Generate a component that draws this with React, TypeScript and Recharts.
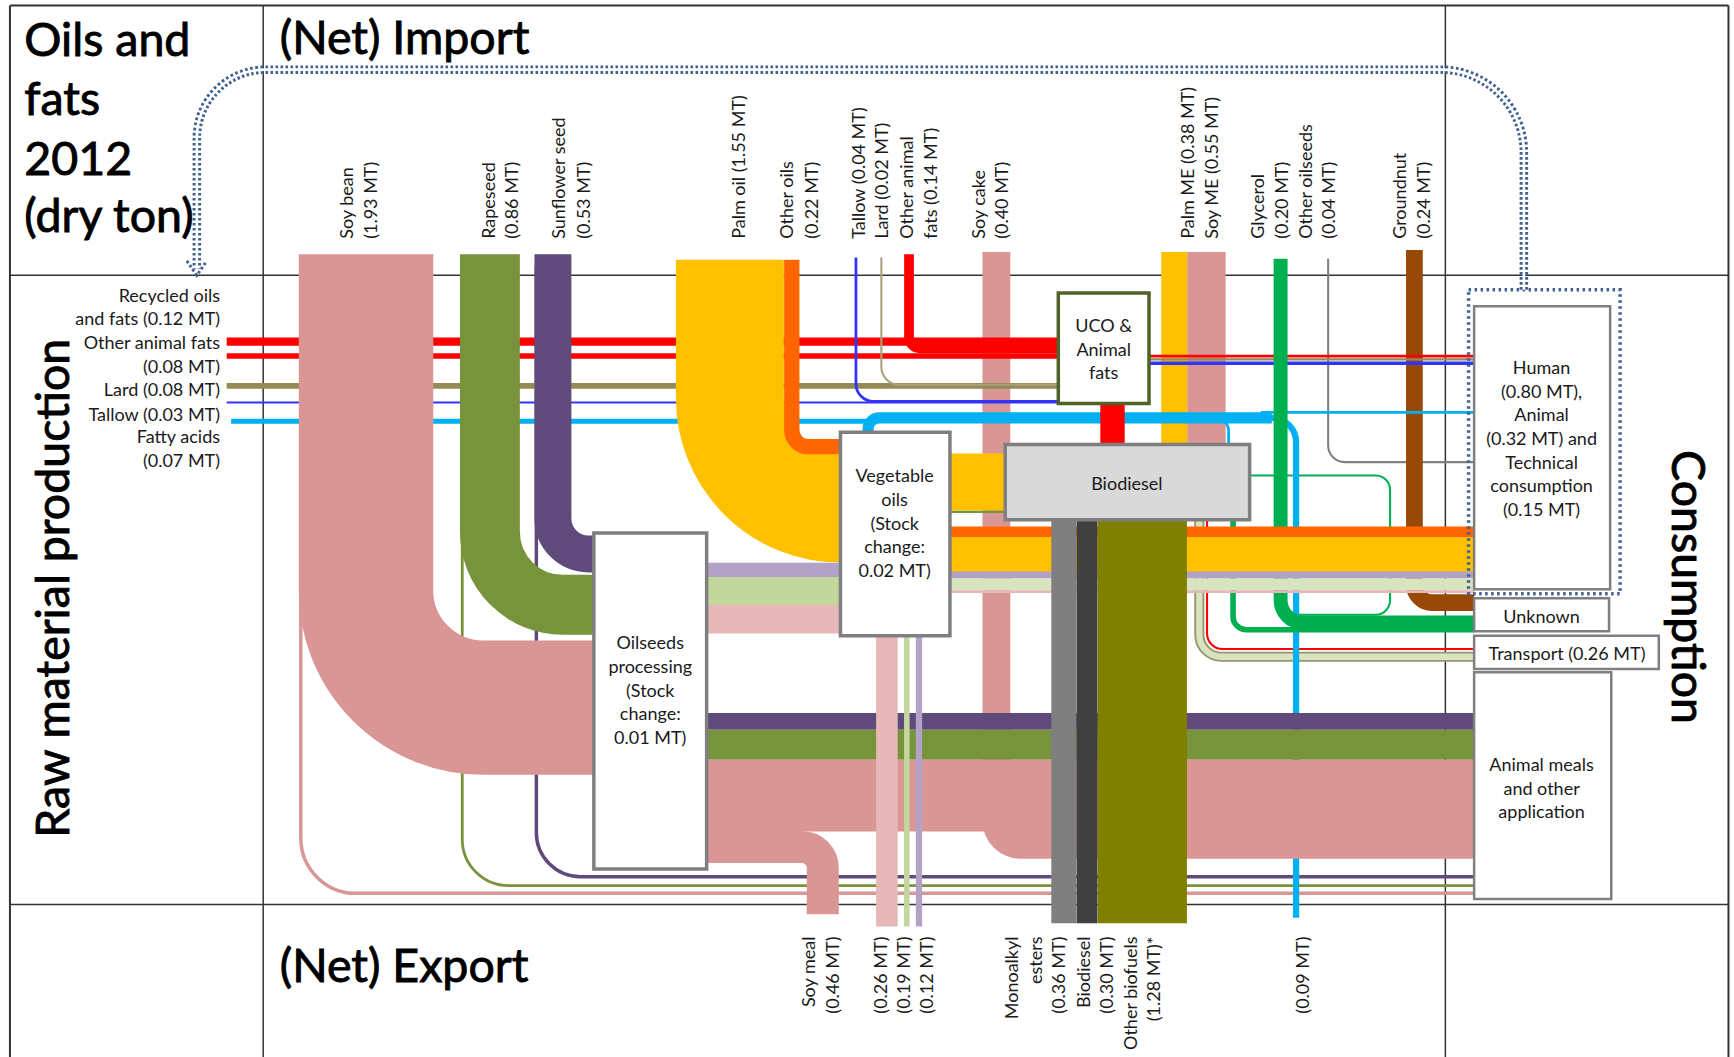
import React from "react";
import {
  ComposedChart,
  XAxis,
  YAxis,
  Line,
  ReferenceArea,
  ReferenceLine,
  ReferenceDot,
} from "recharts";

// ---------- canvas / diagram space ----------
const CHART_W = 1734;
const CHART_H = 1057;
const DOMAIN_W = 1568;
const DOMAIN_H = 956;
const SCALE = CHART_H / DOMAIN_H;
const PX_PER_MT = 63; // diagram units per million tonnes (band width)
const FONT = 'Lato, "Open Sans", "DejaVu Sans", sans-serif';

// ---------- colours ----------
const PINK = "#D99694";
const GREEN = "#77933C";
const PURPLE = "#604A7B";
const YELLOW = "#FFC000";
const ORANGE = "#FF6600";
const RED = "#FF0000";
const KHAKI = "#948A54";
const BLUE = "#3333FF";
const CYAN = "#00B0F0";
const BGREEN = "#00B050";
const BROWN = "#984807";
const GRAY = "#7F7F7F";
const DARK = "#404040";
const OLIVE = "#7F7F00";
const LAVENDER = "#B3A2C7";
const LGREEN = "#C3D69B";
const PALEGREEN = "#D7E4BD";
const LPINK = "#E6B9B8";
const DOTBLUE = "#41618F";

// ---------- values (MT) ----------
const importCategories = [
  "Soy bean", "Rapeseed", "Sunflower seed", "Palm oil", "Other oils", "Tallow", "Lard",
  "Other animal fats", "Soy cake", "Palm ME", "Soy ME", "Glycerol", "Other oilseeds", "Groundnut",
];
const importValues = [1.93, 0.86, 0.53, 1.55, 0.22, 0.04, 0.02, 0.14, 0.4, 0.38, 0.55, 0.2, 0.04, 0.24];

const domesticCategories = ["Recycled oils and fats", "Other animal fats", "Lard", "Tallow", "Fatty acids"];
const domesticValues = [0.12, 0.08, 0.08, 0.03, 0.07];

const exportCategories = ["Soy meal", "Monoalkyl esters", "Biodiesel", "Other biofuels", "Fatty acids"];
const exportValues = [0.46, 0.36, 0.3, 1.28, 0.09];

const imp = (n: string) => importValues[importCategories.indexOf(n)];
const dom = (n: string) => domesticValues[domesticCategories.indexOf(n)];
const exp = (n: string) => exportValues[exportCategories.indexOf(n)];

const flowList = [
  { id: "soyRest", value: 0.05, color: PINK },
  { id: "rapeRest", value: 0.04, color: GREEN },
  { id: "sunRest", value: 0.05, color: PURPLE },
  { id: "transportOuter", value: 0.145, color: "#9A9470" },
  { id: "transportInner", value: 0.09, color: PALEGREEN },
  { id: "transportRed", value: 0.03, color: RED },
  { id: "glycerolLoop", value: 0.03, color: BGREEN },
  { id: "fattyExport", value: exp("Fatty acids"), color: CYAN },
  { id: "soyCake", value: imp("Soy cake"), color: PINK },
  { id: "recycledDom", value: dom("Recycled oils and fats"), color: RED },
  { id: "animalFatDom", value: dom("Other animal fats"), color: RED },
  { id: "lardDom", value: dom("Lard"), color: KHAKI },
  { id: "tallowDom", value: dom("Tallow"), color: BLUE },
  { id: "fattyDom", value: dom("Fatty acids"), color: CYAN },
  { id: "soyBean", value: imp("Soy bean"), color: PINK },
  { id: "rapeseed", value: imp("Rapeseed"), color: GREEN },
  { id: "sunflower", value: imp("Sunflower seed"), color: PURPLE },
  { id: "palmOil", value: imp("Palm oil"), color: YELLOW },
  { id: "otherOils", value: imp("Other oils"), color: ORANGE },
  { id: "tallowImp", value: imp("Tallow"), color: BLUE },
  { id: "lardImp", value: 0.03, color: "#A9A27A" },
  { id: "animalFatImp", value: imp("Other animal fats"), color: RED },
  { id: "palmME", value: imp("Palm ME"), color: YELLOW },
  { id: "soyME", value: imp("Soy ME"), color: PINK },
  { id: "otherOilseeds", value: 0.03, color: GRAY },
  { id: "groundnut", value: imp("Groundnut"), color: BROWN },
  { id: "ucoRed", value: 0.04, color: RED },
  { id: "ucoKhaki", value: 0.03, color: KHAKI },
  { id: "ucoBlue", value: 0.05, color: BLUE },
  { id: "bioGlycerol", value: 0.08, color: BGREEN },
  { id: "fattyBand", value: 0.16, color: CYAN },
  { id: "fattyToBio", value: 0.04, color: CYAN },
  { id: "fattyToHuman", value: 0.04, color: CYAN },
  { id: "glycerol", value: imp("Glycerol"), color: BGREEN },
  { id: "soyMeal", value: exp("Soy meal"), color: PINK },
  { id: "sunMeal", value: 0.24, color: PURPLE },
  { id: "rapeMeal", value: 0.43, color: GREEN },
  { id: "soyMealDom", value: 1.03, color: PINK },
  { id: "vegExpPink", value: 0.31, color: LPINK },
  { id: "vegExpGreen", value: 0.08, color: LGREEN },
  { id: "vegExpLilac", value: 0.09, color: LAVENDER },
  { id: "sunOil", value: 0.21, color: LAVENDER },
  { id: "rapeOil", value: 0.4, color: LGREEN },
  { id: "soyOil", value: 0.41, color: LPINK },
  { id: "vegToBio", value: 0.82, color: YELLOW },
  { id: "rapeToBio", value: 0.03, color: GREEN },
  { id: "otherOilHuman", value: 0.15, color: ORANGE },
  { id: "palmHuman", value: 0.5, color: YELLOW },
  { id: "sunHuman", value: 0.1, color: LAVENDER },
  { id: "rapeHuman", value: 0.17, color: PALEGREEN },
  { id: "soyHuman", value: 0.04, color: LPINK },
  { id: "ucoToBio", value: 0.35, color: RED },
  { id: "monoalkyl", value: exp("Monoalkyl esters"), color: GRAY },
  { id: "biodieselExp", value: exp("Biodiesel"), color: DARK },
  { id: "otherBiofuels", value: exp("Other biofuels"), color: OLIVE },
];

// ---------- layout: routing of each flow (diagram units) ----------
type Pt = [number, number];
const flowRoutes: Record<string, { pts: Pt[]; r?: number }> = {
  soyRest: { pts: [[272, 240], [272, 808], [1333, 808]], r: 50 },
  rapeRest: { pts: [[418, 240], [418, 801], [1333, 801]], r: 42 },
  sunRest: { pts: [[485, 240], [485, 793], [1333, 793]], r: 40 },
  soyCake: { pts: [[901, 228], [901, 764], [1333, 764]], r: 22 },
  recycledDom: { pts: [[205, 309], [957, 309]] },
  animalFatDom: { pts: [[205, 322], [957, 322]] },
  lardDom: { pts: [[205, 349], [957, 349]] },
  tallowDom: { pts: [[205, 364], [957, 364]] },
  fattyDom: { pts: [[209, 381], [790, 381]] },
  soyBean: { pts: [[331, 230], [331, 640], [537, 640]], r: 106 },
  rapeseed: { pts: [[443, 230], [443, 547], [537, 547]], r: 66 },
  sunflower: { pts: [[500, 230], [500, 501], [537, 501]], r: 32 },
  palmOil: { pts: [[660, 235], [660, 460], [760, 460]], r: 100 },
  otherOils: { pts: [[716, 235], [716, 404], [760, 404]], r: 15 },
  tallowImp: { pts: [[774, 233], [774, 363], [957, 363]], r: 16 },
  lardImp: { pts: [[797, 233], [797, 348], [957, 348]], r: 16 },
  animalFatImp: { pts: [[822, 230], [822, 315], [957, 315]], r: 10 },
  palmME: { pts: [[1062, 228], [1062, 402]] },
  soyME: { pts: [[1091, 228], [1091, 402]] },
  otherOilseeds: { pts: [[1201, 234], [1201, 418], [1333, 418]], r: 15 },
  groundnut: { pts: [[1279, 226], [1279, 545], [1333, 545]], r: 16 },
  ucoRed: { pts: [[1039, 322], [1333, 322]] },
  ucoKhaki: { pts: [[1039, 325], [1333, 325]] },
  ucoBlue: { pts: [[1039, 328.5], [1333, 328.5]] },
  transportOuter: { pts: [[1084.5, 470], [1084.5, 594], [1333, 594]], r: 20 },
  transportInner: { pts: [[1084.5, 470], [1084.5, 594], [1333, 594]], r: 20 },
  transportRed: { pts: [[1091.5, 470], [1091.5, 587], [1333, 587]], r: 14 },
  bioGlycerol: { pts: [[1115, 470], [1115, 569.5], [1333, 569.5]], r: 12 },
  glycerolLoop: { pts: [[1130, 430], [1257, 430], [1257, 556], [1165, 556]], r: 13 },
  fattyBand: { pts: [[785, 400], [785, 378], [1150, 378]], r: 10 },
  fattyToBio: { pts: [[1080, 378], [1111, 378], [1111, 402]], r: 12 },
  fattyToHuman: { pts: [[1140, 373], [1333, 373]] },
  fattyExport: { pts: [[1130, 378], [1172, 378], [1172, 830]], r: 22 },
  glycerol: { pts: [[1158, 234], [1158, 563], [1333, 563]], r: 20 },
  soyMeal: { pts: [[639, 766], [744, 766], [744, 827]], r: 19 },
  sunMeal: { pts: [[639, 652.5], [1333, 652.5]] },
  rapeMeal: { pts: [[639, 673.5], [1333, 673.5]] },
  soyMealDom: { pts: [[639, 719.5], [1333, 719.5]] },
  vegExpPink: { pts: [[802, 575], [802, 838]] },
  vegExpGreen: { pts: [[820, 575], [820, 838]] },
  vegExpLilac: { pts: [[831, 575], [831, 838]] },
  sunOil: { pts: [[639, 515.5], [760, 515.5]] },
  rapeOil: { pts: [[639, 534.5], [760, 534.5]] },
  soyOil: { pts: [[639, 560], [760, 560]] },
  vegToBio: { pts: [[859, 436], [909, 436]] },
  rapeToBio: { pts: [[859, 463], [909, 463]] },
  otherOilHuman: { pts: [[859, 481], [1333, 481]] },
  palmHuman: { pts: [[859, 501.5], [1333, 501.5]] },
  sunHuman: { pts: [[859, 520], [1333, 520]] },
  rapeHuman: { pts: [[859, 528.5], [1333, 528.5]] },
  soyHuman: { pts: [[859, 535], [1333, 535]] },
  ucoToBio: { pts: [[1006, 365], [1006, 402]] },
  monoalkyl: { pts: [[962, 470], [962, 835]] },
  biodieselExp: { pts: [[983, 470], [983, 835]] },
  otherBiofuels: { pts: [[1033, 470], [1033, 835]] },
};

// table grid (diagram units)
const gridSegments: { a: Pt; b: Pt; w: number }[] = [
  { a: [9, 5], b: [1563, 5], w: 2 },
  { a: [9, 5], b: [9, 956], w: 2 },
  { a: [1563, 5], b: [1563, 956], w: 2 },
  { a: [9, 249], b: [1563, 249], w: 1.5 },
  { a: [9, 818], b: [1563, 818], w: 1.5 },
  { a: [238, 5], b: [238, 956], w: 1.5 },
  { a: [1307, 5], b: [1307, 956], w: 1.5 },
];

// nodes
const boxes = [
  { id: "oilseeds", x1: 537, y1: 482, x2: 639, y2: 786, fill: "#FFFFFF", stroke: GRAY, sw: 3.5 },
  { id: "veg", x1: 760, y1: 391, x2: 859, y2: 575, fill: "#FFFFFF", stroke: GRAY, sw: 3.5 },
  { id: "uco", x1: 957, y1: 265, x2: 1039, y2: 365, fill: "#FFFFFF", stroke: "#4F6228", sw: 3.5 },
  { id: "biodiesel", x1: 909, y1: 402, x2: 1130, y2: 470, fill: "#D9D9D9", stroke: GRAY, sw: 3.5 },
  { id: "human", x1: 1333, y1: 277, x2: 1456, y2: 533, fill: "#FFFFFF", stroke: GRAY, sw: 2.5 },
  { id: "unknown", x1: 1333, y1: 541, x2: 1455, y2: 571, fill: "#FFFFFF", stroke: GRAY, sw: 2.5 },
  { id: "transport", x1: 1333, y1: 575, x2: 1500, y2: 605, fill: "#FFFFFF", stroke: GRAY, sw: 2.5 },
  { id: "animal", x1: 1333, y1: 608, x2: 1457, y2: 813, fill: "#FFFFFF", stroke: GRAY, sw: 2.5 },
];

// texts
type TextItem = {
  text: string; x: number; y: number; size: number;
  anchor?: "start" | "middle" | "end"; rotate?: number; baseline?: string; heavy?: boolean;
};
const BIG = 46.5;
const SMALL = 18;
const titleTexts: TextItem[] = [
  { text: "Oils and", x: 22, y: 51, size: BIG, anchor: "start", baseline: "alphabetic", heavy: true },
  { text: "fats", x: 22, y: 104, size: BIG, anchor: "start", baseline: "alphabetic", heavy: true },
  { text: "2012", x: 22, y: 158, size: BIG, anchor: "start", baseline: "alphabetic", heavy: true },
  { text: "(dry ton)", x: 22, y: 210, size: BIG, anchor: "start", baseline: "alphabetic", heavy: true },
  { text: "(Net) Import", x: 253, y: 49, size: BIG, anchor: "start", baseline: "alphabetic", heavy: true },
  { text: "(Net) Export", x: 253, y: 888, size: BIG, anchor: "start", baseline: "alphabetic", heavy: true },
  { text: "Raw material production", x: 46, y: 532, size: BIG, anchor: "middle", rotate: -90, heavy: true },
  { text: "Consumption", x: 1528, y: 531, size: BIG, anchor: "middle", rotate: 90, heavy: true },
];

const domesticLabelLines = [
  "Recycled oils", "and fats (0.12 MT)", "Other animal fats", "(0.08 MT)",
  "Lard (0.08 MT)", "Tallow (0.03 MT)", "Fatty acids", "(0.07 MT)",
];
const domesticLabelY = [267, 288, 309, 331, 352, 374, 394, 416];

const importLabelLines = [
  "Soy bean", "(1.93 MT)", "Rapeseed", "(0.86 MT)", "Sunflower seed", "(0.53 MT)",
  "Palm oil (1.55 MT)", "Other oils", "(0.22 MT)", "Tallow (0.04 MT)", "Lard (0.02 MT)",
  "Other animal", "fats (0.14 MT)", "Soy cake", "(0.40 MT)", "Palm ME (0.38 MT)",
  "Soy ME (0.55 MT)", "Glycerol", "(0.20 MT)", "Other oilseeds", "(0.04 MT)", "Groundnut", "(0.24 MT)",
];
const importLabelX = [313, 335, 441, 462, 505, 527, 667, 711, 733, 776, 797, 819, 841, 884, 905, 1073, 1095, 1137, 1158, 1180, 1201, 1265, 1287];

const exportLabelLines = [
  "Soy meal", "(0.46 MT)", "(0.26 MT)", "(0.19 MT)", "(0.12 MT)", "Monoalkyl", "esters",
  "(0.36 MT)", "Biodiesel", "(0.30 MT)", "Other biofuels", "(1.28 MT)*", "(0.09 MT)",
];
const exportLabelX = [731, 752, 796, 817, 837, 914, 936, 957, 979, 1000, 1022, 1043, 1177];

const boxLabels: { lines: string[]; x: number; y0: number }[] = [
  { lines: ["Oilseeds", "processing", "(Stock", "change:", "0.01 MT)"], x: 588, y0: 581 },
  { lines: ["Vegetable", "oils", "(Stock", "change:", "0.02 MT)"], x: 809, y0: 430 },
  { lines: ["UCO &", "Animal", "fats"], x: 998, y0: 294 },
  { lines: ["Biodiesel"], x: 1019, y0: 437 },
  { lines: ["Human", "(0.80 MT),", "Animal", "(0.32 MT) and", "Technical", "consumption", "(0.15 MT)"], x: 1394, y0: 332 },
  { lines: ["Unknown"], x: 1394, y0: 557 },
  { lines: ["Transport (0.26 MT)"], x: 1417, y0: 591 },
  { lines: ["Animal meals", "and other", "application"], x: 1394, y0: 691 },
];
const BOX_LINE_H = 21.4;

// recycling loop arrow (dotted)
const recycleRoute: Pt[] = [[1378, 262], [1378, 63], [178, 63], [178, 243]];
const recycleRadii = [75, 62];
const arrowHead: Pt[] = [[169, 236], [178, 249], [187, 236]];

// ---------- helpers ----------
function roundedCurve(radius: number | number[]) {
  return (ctx: any) => {
    let pts: number[][] = [];
    return {
      areaStart() {},
      areaEnd() {},
      lineStart() {
        pts = [];
      },
      point(x: number, y: number) {
        pts.push([+x, +y]);
      },
      lineEnd() {
        if (!pts.length) return;
        ctx.moveTo(pts[0][0], pts[0][1]);
        for (let i = 1; i < pts.length - 1; i++) {
          const rr = (Array.isArray(radius) ? radius[i - 1] ?? 0 : radius) * SCALE;
          if (rr > 0) ctx.arcTo(pts[i][0], pts[i][1], pts[i + 1][0], pts[i + 1][1], rr);
          else ctx.lineTo(pts[i][0], pts[i][1]);
        }
        const last = pts[pts.length - 1];
        ctx.lineTo(last[0], last[1]);
      },
    };
  };
}

const toData = (pts: Pt[]) => pts.map(([x, y]) => ({ x, y }));

function textShape(t: TextItem) {
  return (p: any) => {
    const cx = p.cx;
    const cy = p.cy;
    const col = t.heavy ? "#000000" : "#1A1A1A";
    return (
      <text
        x={cx}
        y={cy}
        transform={t.rotate ? `rotate(${t.rotate} ${cx} ${cy})` : undefined}
        textAnchor={t.anchor ?? "middle"}
        dominantBaseline={t.baseline ?? "central"}
        fontFamily={FONT}
        fontSize={t.size}
        fill={col}
        stroke={t.heavy ? col : "none"}
        strokeWidth={t.heavy ? 0.9 : 0}
      >
        {t.text}
      </text>
    );
  };
}

// ---------- component ----------
export default function App() {
  const texts: TextItem[] = [
    ...titleTexts,
    ...domesticLabelLines.map((s, i) => ({ text: s, x: 199, y: domesticLabelY[i], size: SMALL, anchor: "end" as const })),
    ...importLabelLines.map((s, i) => ({ text: s, x: importLabelX[i], y: 216, size: SMALL, anchor: "start" as const, rotate: -90 })),
    ...exportLabelLines.map((s, i) => ({ text: s, x: exportLabelX[i], y: 847, size: SMALL, anchor: "end" as const, rotate: -90 })),
    ...boxLabels.flatMap((b) =>
      b.lines.map((s, i) => ({ text: s, x: b.x, y: b.y0 + i * BOX_LINE_H, size: SMALL, anchor: "middle" as const }))
    ),
  ];

  return (
    <div style={{ position: "absolute", left: 0, top: 0, width: CHART_W, height: CHART_H, background: "#FFFFFF" }}>
      <ComposedChart width={CHART_W} height={CHART_H} margin={{ top: 0, right: 0, bottom: 0, left: 0 }}>
        <XAxis type="number" dataKey="x" domain={[0, DOMAIN_W]} allowDataOverflow hide />
        <YAxis type="number" dataKey="y" domain={[0, DOMAIN_H]} allowDataOverflow reversed hide />

        {gridSegments.map((g, i) => (
          <ReferenceLine
            key={`g${i}`}
            segment={[{ x: g.a[0], y: g.a[1] }, { x: g.b[0], y: g.b[1] }]}
            stroke="#333333"
            strokeWidth={g.w}
            ifOverflow="visible"
            zIndex={50}
          />
        ))}

        {flowList.map((f) => {
          const route = flowRoutes[f.id];
          return (
            <Line
              key={f.id}
              data={toData(route.pts)}
              dataKey="y"
              type={roundedCurve(route.r ?? 0) as any}
              stroke={f.color}
              strokeWidth={f.value * PX_PER_MT * SCALE}
              strokeLinecap="butt"
              strokeLinejoin="round"
              dot={false}
              activeDot={false}
              legendType="none"
              isAnimationActive={false}
              zIndex={400}
            />
          );
        })}

        {boxes.map((b) => (
          <ReferenceArea
            key={b.id}
            x1={b.x1}
            x2={b.x2}
            y1={b.y1}
            y2={b.y2}
            fill={b.fill}
            fillOpacity={1}
            stroke={b.stroke}
            strokeWidth={b.sw}
            ifOverflow="visible"
            zIndex={500}
          />
        ))}

        <ReferenceArea
          x1={1328}
          x2={1465}
          y1={262}
          y2={537}
          fill="none"
          fillOpacity={0}
          stroke={DOTBLUE}
          strokeWidth={3.5}
          strokeDasharray="2.5 3.5"
          ifOverflow="visible"
          zIndex={550}
        />

        <Line
          data={toData(recycleRoute)}
          dataKey="y"
          type={roundedCurve(recycleRadii) as any}
          stroke={DOTBLUE}
          strokeWidth={8.5}
          strokeDasharray="2.6 2.4"
          dot={false}
          activeDot={false}
          legendType="none"
          isAnimationActive={false}
          zIndex={560}
        />
        <Line
          data={toData(recycleRoute)}
          dataKey="y"
          type={roundedCurve(recycleRadii) as any}
          stroke="#FFFFFF"
          strokeWidth={2.6}
          dot={false}
          activeDot={false}
          legendType="none"
          isAnimationActive={false}
          zIndex={560}
        />
        <Line
          data={toData(arrowHead)}
          dataKey="y"
          type="linear"
          stroke={DOTBLUE}
          strokeWidth={3}
          strokeDasharray="2.6 2.4"
          dot={false}
          activeDot={false}
          legendType="none"
          isAnimationActive={false}
          zIndex={560}
        />

        {texts.map((t, i) => (
          <ReferenceDot
            key={`t${i}`}
            x={t.x}
            y={t.y}
            r={0}
            ifOverflow="visible"
            shape={textShape(t)}
            zIndex={700}
          />
        ))}
      </ComposedChart>
    </div>
  );
}
